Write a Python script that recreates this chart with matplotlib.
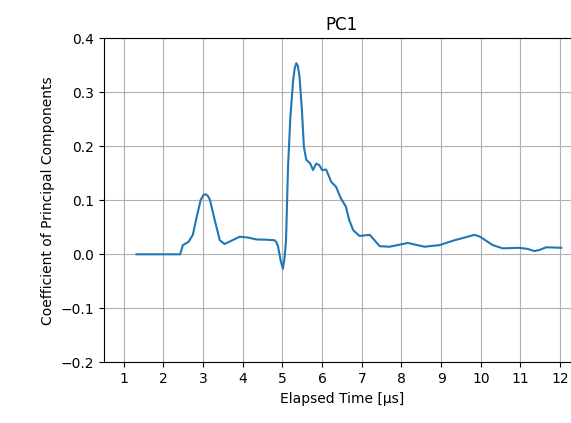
import matplotlib.pyplot as plt

# PC1 loading vs elapsed time
time_us = [1.32, 2.42, 2.49, 2.63, 2.74, 2.84, 2.94, 3.01, 3.07, 3.12, 3.17, 3.29, 3.42,
           3.54, 3.71, 3.92, 4.13, 4.34, 4.60, 4.80, 4.85, 4.89, 4.95, 5.01, 5.05,
           5.09, 5.14, 5.20, 5.27, 5.31, 5.35, 5.39, 5.43, 5.49, 5.54, 5.60, 5.70,
           5.77, 5.85, 5.93, 6.0, 6.10, 6.23, 6.35, 6.47, 6.60, 6.68, 6.78, 6.94,
           7.20, 7.32, 7.45, 7.70, 8.16, 8.58, 8.96, 9.29, 9.59, 9.84, 9.97, 10.30,
           10.55, 10.97, 11.18, 11.35, 11.48, 11.65, 12.03]
coef = [0.0, 0.0, 0.017, 0.023, 0.036, 0.070, 0.101, 0.110, 0.111, 0.108, 0.101, 0.064, 0.026,
        0.019, 0.025, 0.0325, 0.031, 0.0275, 0.027, 0.026, 0.022, 0.014, -0.010, -0.027, -0.008,
        0.026, 0.162, 0.255, 0.323, 0.345, 0.354, 0.348, 0.329, 0.267, 0.199, 0.175, 0.168,
        0.156, 0.168, 0.165, 0.156, 0.157, 0.134, 0.125, 0.104, 0.088, 0.064, 0.045, 0.034,
        0.036, 0.026, 0.015, 0.014, 0.021, 0.014, 0.017, 0.025, 0.031, 0.036, 0.033, 0.017,
        0.011, 0.012, 0.010, 0.006, 0.008, 0.013, 0.012]

fig = plt.figure(figsize=(5.71, 4.23), dpi=100)
ax = fig.add_axes([0.1821, 0.1435, 0.8336, 0.766])
ax.plot(time_us, coef)
ax.set_xlim(0.5, 12.5)
ax.set_ylim(-0.2, 0.4)
ax.set_xticks(range(1, 13))
ax.set_title("PC1")
ax.set_xlabel("Elapsed Time [μs]")
ax.set_ylabel("Coefficient of Principal Components")
ax.grid(True)
fig.savefig("out.png", dpi=100)
